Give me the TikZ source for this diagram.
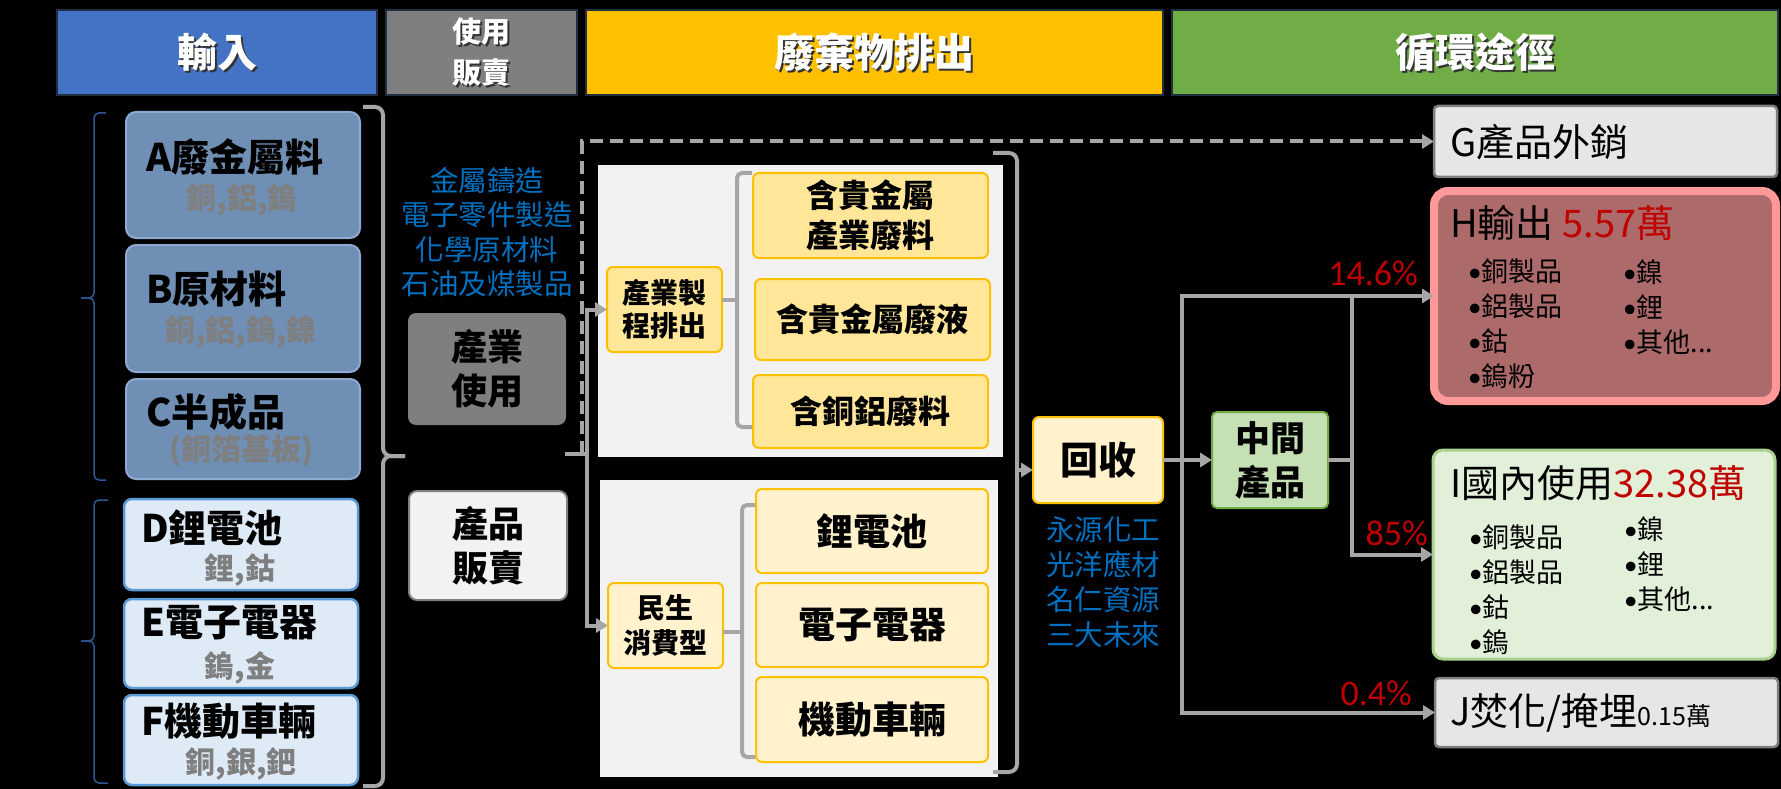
\documentclass[tikz,border=0pt]{standalone}
\usepackage{fontspec}
\setmainfont{Noto Sans CJK TC}
\newfontfamily\latf{Carlito}
\usetikzlibrary{arrows.meta}
\definecolor{hblue}{HTML}{4472C4}
\definecolor{hgray}{HTML}{7F7F7F}
\definecolor{hyellow}{HTML}{FFC000}
\definecolor{hgreen}{HTML}{70AD47}
\definecolor{hborder}{HTML}{1F2F3F}
\definecolor{steel}{RGB}{111,143,180}
\definecolor{steelb}{RGB}{143,170,210}
\definecolor{subgray}{HTML}{7F7F7F}
\definecolor{lblue}{HTML}{DEEBF7}
\definecolor{lblueb}{HTML}{5B9BD5}
\definecolor{panel}{HTML}{F2F2F2}
\definecolor{ylw}{HTML}{FFE699}
\definecolor{ylwb}{HTML}{FFC000}
\definecolor{cream}{HTML}{FFF2CC}
\definecolor{conn}{HTML}{A6A6A6}
\definecolor{txtblue}{HTML}{0070C0}
\definecolor{txtred}{HTML}{C00000}
\definecolor{lgray}{HTML}{E7E6E6}
\definecolor{boxgray}{HTML}{7F7F7F}
\definecolor{rose}{RGB}{172,106,106}
\definecolor{pinkb}{HTML}{FF9999}
\definecolor{lgreen}{HTML}{E2F0D9}
\definecolor{lgreenb}{HTML}{A9D18E}
\definecolor{mgreen}{HTML}{C5E0B4}
\definecolor{mgreenb}{HTML}{70AD47}
\definecolor{bracenavy}{HTML}{2F5597}
\newcommand\FS[2]{\fontsize{#1}{#2}\selectfont}
\newcommand\bu{{\latf •}}
\tikzset{
  base/.style={anchor=north west, inner sep=0pt, outer sep=0pt},
  hdr/.style={base, draw=hborder, line width=1.5pt, minimum height=85pt},
  hdrtxt/.style={text=white, font=\FS{40}{46}\bfseries, inner sep=0pt, align=center},
  hdrshadow/.style={text=black!80, font=\FS{40}{46}\bfseries, inner sep=0pt, align=center},
  inA/.style={base, fill=steel, draw=steelb, line width=2pt, rounded corners=10pt, minimum width=234pt},
  inD/.style={base, fill=lblue, draw=lblueb, line width=2.5pt, rounded corners=8pt, minimum width=234pt},
  ttl/.style={anchor=west, inner sep=0pt, font=\FS{38}{42}\bfseries},
  subt/.style={inner sep=0pt, text=subgray, font=\FS{30}{32}\bfseries},
  bluetxt/.style={inner sep=0pt, text=txtblue, align=center, font=\FS{28.5}{34.5}},
  usebox/.style={base, rounded corners=8pt, minimum width=158pt, align=center, font=\FS{36}{44}\bfseries},
  panelbox/.style={base, fill=panel},
  ybox/.style={base, fill=ylw, draw=ylwb, line width=2pt, rounded corners=6pt, align=center},
  cbox/.style={base, fill=cream, draw=ylwb, line width=2pt, rounded corners=6pt, align=center},
  cn/.style={draw=conn, line width=4pt},
  arr/.style={-{Triangle[length=12pt,width=14pt]}},
  gbr/.style={draw=conn, line width=4pt, rounded corners=8pt},
  nbr/.style={draw=bracenavy, line width=1.5pt, rounded corners=5pt},
  pct/.style={anchor=east, inner sep=0pt, text=txtred, font=\latf\FS{36}{40}},
  rttl/.style={anchor=west, inner sep=0pt, font=\FS{38}{44}},
  bul/.style={anchor=west, inner sep=0pt, align=left, font=\FS{27}{35}},
}
\begin{document}
\begin{tikzpicture}[x=1pt,y=-1pt]
\useasboundingbox (0,0) rectangle (1781,789);
\fill[black] (0,0) rectangle (1781,789);

% headers
\node[hdr, fill=hblue, minimum width=320pt] (hIn) at (57,10) {};
\node[hdr, fill=hgray, minimum width=191pt] (hUse) at (386,10) {};
\node[hdr, fill=hyellow, minimum width=577pt] (hWaste) at (586,10) {};
\node[hdr, fill=hgreen, minimum width=606pt] (hCirc) at (1172,10) {};
\node[hdrshadow] (hInS) at ([shift={(2,2)}]hIn.center) {輸入};
\node[hdrtxt] (hInT) at (hIn.center) {輸入};
\node[hdrshadow, font=\FS{29}{41}\bfseries] (hUseS) at ([shift={(2,2)}]hUse.center) {使用\\販賣};
\node[hdrtxt, font=\FS{29}{41}\bfseries] (hUseT) at (hUse.center) {使用\\販賣};
\node[hdrshadow] (hWasteS) at ([shift={(2,2)}]hWaste.center) {廢棄物排出};
\node[hdrtxt] (hWasteT) at (hWaste.center) {廢棄物排出};
\node[hdrshadow] (hCircS) at ([shift={(2,2)}]hCirc.center) {循環途徑};
\node[hdrtxt] (hCircT) at (hCirc.center) {循環途徑};

% input boxes
\node[inA, minimum height=126pt] (A) at (126,112) {};
\node[ttl] (At) at (146,157) {A廢金屬料};
\node[subt] (As) at (242,200) {銅,鋁,鎢};
\node[inA, minimum height=127pt] (B) at (126,245) {};
\node[ttl] (Bt) at (146,289) {B原材料};
\node[subt] (Bs) at (241,332) {銅,鋁,鎢,鎳};
\node[inA, minimum height=100pt] (C) at (126,379) {};
\node[ttl] (Ct) at (146,412) {C半成品};
\node[subt] (Cs) at (241,451) {(銅箔基板)};
\node[inD, minimum height=91pt] (D) at (124,499) {};
\node[ttl] (Dt) at (141,528) {D鋰電池};
\node[subt] (Ds) at (240,570) {鋰,鈷};
\node[inD, minimum height=89pt] (E) at (124,599) {};
\node[ttl] (Et) at (141,623) {E電子電器};
\node[subt] (Es) at (240,668) {鎢,金};
\node[inD, minimum height=90pt] (F) at (124,695) {};
\node[ttl] (Ft) at (141,721) {F機動車輛};
\node[subt] (Fs) at (241,764) {銅,銀,鈀};

% navy braces
\draw[nbr] (106,113) -- (94,113) -- (94,298) -- (81,298);
\draw[nbr] (81,298) -- (94,298) -- (94,480) -- (106,480);
\draw[nbr] (108,500) -- (94,500) -- (94,641) -- (81,641);
\draw[nbr] (81,641) -- (94,641) -- (94,783) -- (108,783);

% big gray bracket
\coordinate (tipL) at (405,456);
\draw[gbr] (363,107) -- (383,107) -- (383,456) -- (tipL);
\draw[gbr] (tipL) -- (383,456) -- (383,786) -- (363,786);

% usage column
\node[bluetxt] (ind) at (487,232) {金屬鑄造\\電子零件製造\\化學原材料\\石油及煤製品};
\node[usebox, fill=hgray, minimum height=112pt] (use1) at (408,313) {產業\\使用};
\node[usebox, fill=panel, draw=boxgray, line width=2pt, minimum height=109pt] (use2) at (409,491) {產品\\販賣};

% panels
\node[panelbox, minimum width=405pt, minimum height=292pt] (pnl1) at (598,165) {};
\node[panelbox, minimum width=398pt, minimum height=297pt] (pnl2) at (600,480) {};

\node[ybox, minimum width=115pt, minimum height=85pt, font=\FS{28}{33}\bfseries] (p1) at (607,267) {產業製\\程排出};
\node[ybox, minimum width=235pt, minimum height=85pt, font=\FS{32}{40}\bfseries] (w1) at (753,173) {含貴金屬\\產業廢料};
\node[ybox, minimum width=235pt, minimum height=81pt, font=\FS{32}{40}\bfseries] (w2) at (755,279) {含貴金屬廢液};
\node[ybox, minimum width=235pt, minimum height=73pt, font=\FS{32}{40}\bfseries] (w3) at (753,375) {含銅鋁廢料};

\node[cbox, minimum width=115pt, minimum height=85pt, font=\FS{28}{35}\bfseries] (p2) at (608,583) {民生\\消費型};
\node[cbox, minimum width=232pt, minimum height=84pt, font=\FS{37}{42}\bfseries] (c1) at (756,489) {鋰電池};
\node[cbox, minimum width=232pt, minimum height=84pt, font=\FS{37}{42}\bfseries] (c2) at (756,583) {電子電器};
\node[cbox, minimum width=232pt, minimum height=85pt, font=\FS{37}{42}\bfseries] (c3) at (756,677) {機動車輛};

% small brackets
\draw[cn] (722,300) -- (737,300);
\draw[gbr, rounded corners=5pt] (752,173) -- (737,173) -- (737,427) -- (752,427);
\draw[cn] (723,632) -- (742,632);
\draw[gbr, rounded corners=5pt] (755,505) -- (742,505) -- (742,757) -- (755,757);

% right bracket of waste panels
\draw[gbr] (993,153) -- (1017,153) -- (1017,772) -- (993,772);

% recovery
\node[cbox, minimum width=130pt, minimum height=86pt, font=\FS{38}{44}\bfseries] (rec) at (1033,417) {回收};
\node[bluetxt, font=\FS{28.5}{35}] (firms) at (1103,582) {永源化工\\光洋應材\\名仁資源\\三大未來};
\node[base, fill=mgreen, draw=mgreenb, line width=2pt, rounded corners=5pt, minimum width=116pt, minimum height=96pt, align=center, font=\FS{35}{44}\bfseries] (mid) at (1212,412) {中間\\產品};

% right column boxes
\node[base, fill=lgray, draw=boxgray, line width=2.5pt, rounded corners=4pt, minimum width=343pt, minimum height=71pt] (G) at (1434,106) {};
\node[rttl] (Gt) at (1450,142) {G產品外銷};
\node[base, fill=rose, draw=pinkb, line width=8pt, rounded corners=14pt, minimum width=342pt, minimum height=210pt] (H) at (1434,191) {};
\node[rttl] (Ht) at (1450,223) {H輸出 \textcolor{txtred}{5.57萬}};
\node[bul] (Hl) at (1468,323.5) {\bu 銅製品\\\bu 鋁製品\\\bu 鈷\\\bu 鎢粉};
\node[bul] (Hr) at (1623,307) {\bu 鎳\\\bu 鋰\\\bu 其他...};
\node[base, fill=lgreen, draw=lgreenb, line width=3pt, rounded corners=10pt, minimum width=342pt, minimum height=209pt] (I) at (1433,450) {};
\node[rttl] (It) at (1450,483) {I國內使用\textcolor{txtred}{32.38萬}};
\node[bul] (Il) at (1469,589.5) {\bu 銅製品\\\bu 鋁製品\\\bu 鈷\\\bu 鎢};
\node[bul] (Ir) at (1624,564) {\bu 鎳\\\bu 鋰\\\bu 其他...};
\node[base, fill=lgray, draw=boxgray, line width=2.5pt, rounded corners=4pt, minimum width=343pt, minimum height=69pt] (J) at (1435,678) {};
\node[rttl] (Jt) at (1450,713) {J焚化/掩埋{\FS{25}{30}0.15萬}};

% connectors in usage / waste area
\coordinate (jn) at (565,454);
\coordinate (jv) at (587,454);
\coordinate (dv) at (582,454);
\draw[cn] (jn) -- (jv);
\draw[cn, dash pattern=on 13pt off 7pt, arr] (dv) |- (G.west);
\draw[cn, arr] (jv) |- (p1.west);
\draw[cn, arr] (jv) |- (p2.west);
\draw[cn, arr] (1017,470) -- ([yshift=-10pt]rec.west);

% recovery flow
\draw[cn, arr] (rec.east) -- (rec.east -| mid.west);
\coordinate (b1) at (1182,460);
\coordinate (b2) at (1352,460);
\draw[cn, arr] (b1) |- (H.west);
\draw[cn, arr] (b1) |- (J.west);
\draw[cn] (mid.east) -- (b2);
\draw[cn] (b2) -- (b2 |- H.west);
\draw[cn, arr] (b2) |- (I.west);

\node[pct] (p146) at (1418,273) {14.6\%};
\node[pct] (p85) at (1428,533) {85\%};
\node[pct] (p04) at (1412,693) {0.4\%};
\end{tikzpicture}
\end{document}
